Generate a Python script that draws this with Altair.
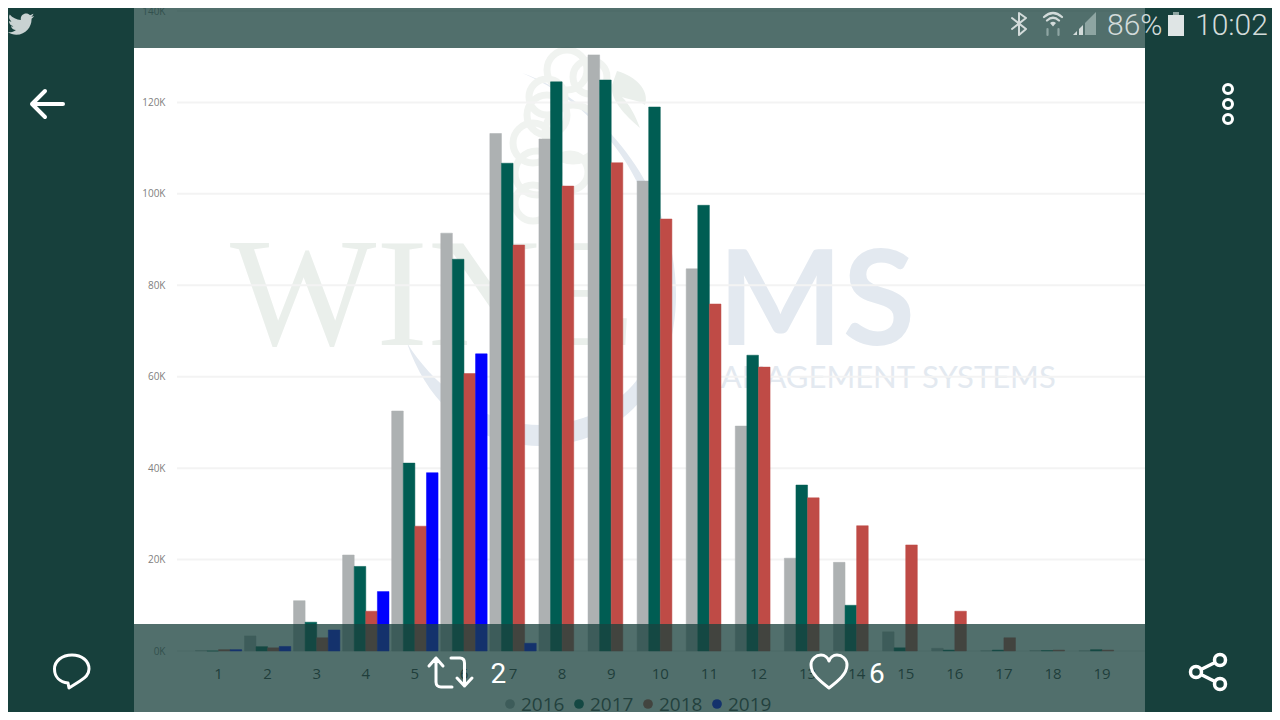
import re
import altair as alt
import pandas as pd

months = list(range(1, 20))
years = ["2016", "2017", "2018", "2019"]
s2016 = [100, 3300, 11000, 21000, 52500, 91400, 113200, 112000, 130400, 102800, 83600, 49200, 20300, 19400, 4200, 600, 50, 100, 50]
s2017 = [0, 950, 6300, 18500, 41100, 85700, 106700, 124500, 124900, 119000, 97500, 64700, 36300, 10000, 700, 200, 200, 100, 300]
s2018 = [300, 700, 2900, 8700, 27300, 60700, 88800, 101700, 106800, 94500, 75900, 62100, 33500, 27400, 23200, 8700, 2900, 200, 200]
s2019 = [300, 1000, 4600, 13000, 39000, 65000, 1700]
y_ticks = [0, 20000, 40000, 60000, 80000, 100000, 120000, 140000]
bar_colors = ["#adb1b2", "#005d53", "#bf4b46", "#0000fe"]

rows = []
for yr, vals in zip(years, [s2016, s2017, s2018, s2019]):
    for m, v in zip(months, vals):
        rows.append({"month": m, "year": yr, "value": v})
df = pd.DataFrame(rows)
ticks_df = pd.DataFrame({"tick": y_ticks})
one = pd.DataFrame({"a": [0]})

W, H = 1264, 704
MARGIN = 8


def norm(d, ox=0.0, oy=0.0, s=1.0):
    """Turn an absolute path in page pixels into Vega's -1..1 symbol box (page centred)."""
    toks = re.findall(r"[A-Za-z]|-?\d+\.?\d*", d)
    out, is_x = [], True
    for t in toks:
        if t.isalpha():
            out.append(t)
            is_x = True
        else:
            v = float(t)
            v = (v * s + ox - 640) / 640 if is_x else (v * s + oy - 360) / 640
            out.append(f"{v:.5f}")
            is_x = not is_x
    return " ".join(out)


def P(d, fill=None, stroke=None, sw=0, opacity=1.0, **tf):
    kw = dict(shape=norm(d, **tf), size=1280 ** 2, opacity=opacity, strokeCap="round", strokeJoin="round")
    if fill:
        kw.update(filled=True, fill=fill)
    else:
        kw.update(filled=False, fill="transparent")
    if stroke:
        kw.update(stroke=stroke, strokeWidth=sw)
    else:
        kw.update(strokeWidth=0)
    return alt.Chart(one).mark_point(**kw).encode(x=alt.value(640 - MARGIN), y=alt.value(360 - MARGIN))


def T(text, x, y, size, color, font="Roboto", align="left", baseline="alphabetic", weight=400):
    return alt.Chart(one).mark_text(text=text, font=font, fontSize=size, color=color, align=align,
                                    baseline=baseline, fontWeight=weight).encode(
        x=alt.value(x - MARGIN), y=alt.value(y - MARGIN))


def circ(cx, cy, r):
    k = 0.5523 * r
    return (f"M{cx - r} {cy} C{cx - r} {cy - k} {cx - k} {cy - r} {cx} {cy - r} "
            f"C{cx + k} {cy - r} {cx + r} {cy - k} {cx + r} {cy} "
            f"C{cx + r} {cy + k} {cx + k} {cy + r} {cx} {cy + r} "
            f"C{cx - k} {cy + r} {cx - r} {cy + k} {cx - r} {cy} Z ")


def box(x0, y0, x1, y1):
    return f"M{x0} {y0} L{x1} {y0} L{x1} {y1} L{x0} {y1} Z"


# watermark
WM_G, WM_B = "#eaefeb", "#e3e9f0"
grapes = "".join(circ(*c) for c in [(567, 70, 20), (590, 77, 17), (547, 97, 18), (547, 115, 20), (533, 143, 20),
                                    (573, 133, 28), (537, 173, 22), (570, 172, 18), (533, 203, 18)])
watermark = [
    P("M522 73 C600 100 676 190 676 295 C676 385 620 445 540 446 C480 446 430 410 407 343 "
      "C440 395 490 425 540 425 C610 425 664 375 664 295 C664 190 600 105 522 73 Z", fill=WM_B),
    P(grapes, stroke="#f0f3f0", sw=7),
    P("M617 71 C635 76 650 90 645 105 C638 100 630 100 622 97 C630 105 635 115 640 128 C625 115 610 100 612 85 Z",
      fill=WM_G),
    T("WINE", 230, 345, 155, WM_G, font="Liberation Serif"),
    T("MS", 718, 345, 132, WM_B, font="Lato", weight=700),
    T("MANAGEMENT SYSTEMS", 692, 388, 31, WM_B, font="Lato"),
]

y_scale = alt.Scale(domain=[0, 140000], range=[651 - MARGIN, 11 - MARGIN])
x_scale = alt.Scale(domain=months, range=[194 - MARGIN, 1126.6 - MARGIN], paddingInner=0.055, paddingOuter=0.0275)
color_scale = alt.Scale(domain=years, range=bar_colors)
y_axis = alt.Axis(values=y_ticks, labelExpr="datum.value/1000 + 'K'", labelFont="Open Sans",
                  labelFontSize=10, labelColor="#808080", labelPadding=0, domain=False, ticks=False,
                  tickSize=0, grid=False, offset=-(165 - MARGIN), labelBound=False, labelOverlap=False)

grid = alt.Chart(ticks_df).mark_rule(color="#f3f3f3", strokeWidth=2).encode(
    y=alt.Y("tick:Q", scale=y_scale, axis=y_axis, title=None),
    x=alt.value(169),
    x2=alt.value(1137),
)

bars = alt.Chart(df).mark_bar(opacity=1, strokeWidth=0.5).encode(
    x=alt.X("month:O", scale=x_scale, title=None,
            axis=alt.Axis(labelAngle=0, labelFont="Open Sans", labelFontSize=15, labelColor="#333333",
                          labelPadding=15, domain=False, ticks=False, tickSize=0, grid=False,
                          offset=-(H - (651 - MARGIN)))),
    xOffset=alt.XOffset("year:N", scale=alt.Scale(domain=years)),
    y=alt.Y("value:Q", scale=y_scale, title=None, axis=y_axis),
    color=alt.Color("year:N", scale=color_scale, legend=None),
    stroke=alt.Stroke("year:N", scale=color_scale, legend=None),
)

# legend row, kept beneath the translucent bottom bar as in the reference
legend_layers = []
for i, (yr, col) in enumerate(zip(years, bar_colors)):
    legend_layers.append(
        alt.Chart(one).mark_point(filled=True, opacity=1, size=95, shape="circle", color=col).encode(
            x=alt.value(510 + 69 * i - MARGIN), y=alt.value(704 - MARGIN)))
    legend_layers.append(T(yr, 521 + 69 * i, 711, 19, "#3f3f3f", font="Open Sans"))

SIDE = "#17403c"
OVER = "rgb(26,66,62)"
ICON = "#d3dbda"
DIM = "#8ea5a2"
WHITE = "#ffffff"
bird = ("M24 4.6 C23.1 5 22.2 5.2 21.2 5.35 C22.2 4.7 23 3.8 23.3 2.6 C22.3 3.2 21.3 3.6 20.2 3.8 C19.3 2.8 18 2.2 16.6 2.2 "
        "C13.9 2.2 11.7 4.4 11.7 7.1 C11.7 7.5 11.7 7.9 11.8 8.2 C7.7 8 4.1 6.1 1.6 3.2 C1.2 3.9 1 4.7 1 5.6 C1 7.3 1.9 8.8 3.2 9.7 "
        "C2.4 9.7 1.6 9.5 0.9 9.1 L0.9 9.2 C0.9 11.6 2.6 13.5 4.9 14 C4.2 14.2 3.4 14.2 2.7 14.1 C3.3 16.1 5.1 17.5 7.3 17.5 "
        "C5.6 18.8 3.5 19.6 1.2 19.6 C0.8 19.6 0.4 19.6 0 19.5 C2.2 20.9 4.8 21.8 7.6 21.8 C16.6 21.8 21.6 14.3 21.6 7.8 "
        "C21.6 7.6 21.6 7.4 21.6 7.2 C22.6 6.5 23.4 5.6 24 4.6 Z")

chrome = [
    P(box(134, 0, 1145, 48), fill=OVER, opacity=0.76),
    P(box(134, 624, 1145, 720), fill=OVER, opacity=0.76),
    P(box(0, 0, 134, 720), fill=SIDE),
    P(box(1145, 0, 1280, 720), fill=SIDE),
    P(bird, fill="#c9d2d2", ox=8, oy=11, s=1.09),
    P("M32 104 L63 104 M45 91 L32 104 L45 117", stroke=WHITE, sw=4),
    P(circ(1228, 89, 4.5) + circ(1228, 104, 4.5) + circ(1228, 119, 4.5), stroke=WHITE, sw=3),
    P("M68 683 C60 682 54.5 677 54.5 669 C54.5 661 62 655 72 655 C82 655 89 661 89 669 C89 675 85 678 80 681 L69 688 Z",
      stroke=WHITE, sw=3),
    P("M429 666 L436 658 L443 666 M436 658 L436 682 C436 685 438 687 441 687 L452 687 "
      "M451 658 L460 658 C463 658 464.5 660 464.5 663 L464.5 686 M457 678 L464.5 686 L472 678", stroke=WHITE, sw=3),
    P("M829 688 C820 681 811 674 811 665 C811 659 816 655 821 655 C825 655 828 658 829 661 "
      "C830 658 833 655 837 655 C842 655 847 659 847 665 C847 674 838 681 829 688 Z", stroke=WHITE, sw=3),
    P(circ(1196, 672, 5.5) + circ(1220, 660, 5.5) + circ(1220, 684, 5.5) +
      "M1201 669.5 L1215 662.5 M1201 674.5 L1215 681.5", stroke=WHITE, sw=3.5),
    P("M1012 18 L1026 29 L1019 35 L1019 13 L1026 18 L1012 29", stroke=ICON, sw=2),
    P("M1044 17 Q1053 9 1062 17 M1047 20.5 Q1053 15 1059 20.5", stroke=ICON, sw=2.2),
    P("M1050 23 Q1053 20.5 1056 23 L1053 26.5 Z", fill=ICON),
    P("M1047.5 29 L1047.5 35 M1058.5 29 L1058.5 35", stroke=DIM, sw=2.2),
    P("M1085 23 L1096 12 L1096 35 L1085 35 Z", fill=DIM),
    P("M1073 35 L1077 31 L1077 35 Z M1079 35 L1079 29 L1083 25 L1083 35 Z", fill=ICON),
    P(box(1173, 12, 1179, 16), fill=DIM),
    P(box(1168, 15, 1184, 36), fill="#dfe5e5"),
    T("86%", 1107, 35, 30, ICON, weight=300),
    T("10:02", 1195, 35, 30, ICON, weight=300),
    T("2", 490.5, 683, 28, WHITE),
    T("6", 869, 683, 28, WHITE),
]

chart = alt.layer(*watermark, grid, bars, *legend_layers, *chrome).properties(
    width=W, height=H, padding=0, autosize=alt.AutoSizeParams(type="none"), background="#ffffff"
).configure_view(stroke=None)

chart.save("out.html", embed_options={"renderer": "svg", "actions": False})
